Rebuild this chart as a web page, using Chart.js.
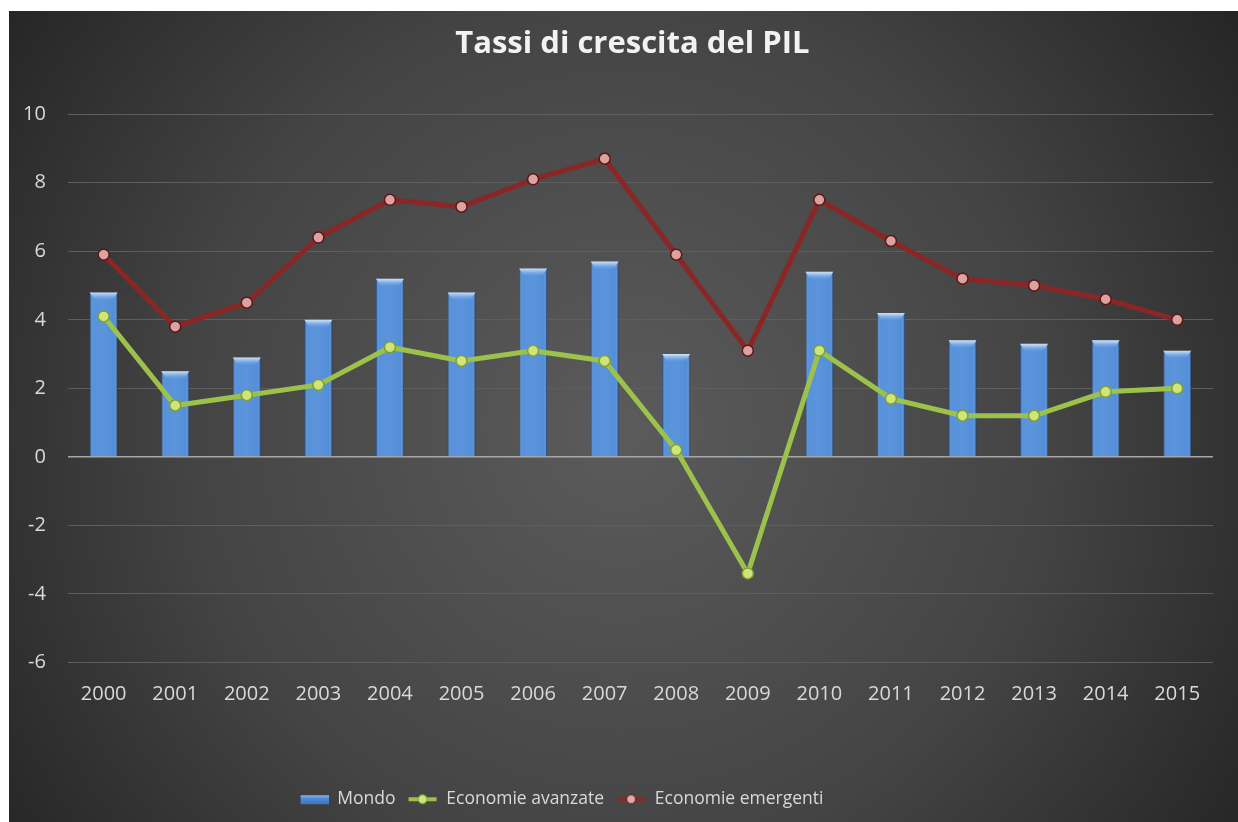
<!DOCTYPE html>
<html>
<head>
<meta charset="utf-8">
<script src="https://cdn.jsdelivr.net/npm/chart.js@4"></script>
<style>
  html, body { margin: 0; padding: 0; background: #ffffff; }
  #wrap { width: 1238px; height: 822px; }
</style>
</head>
<body>
<div id="wrap"><canvas id="c" width="1238" height="822"></canvas></div>
<script>
const years = ['2000','2001','2002','2003','2004','2005','2006','2007','2008','2009','2010','2011','2012','2013','2014','2015'];
const mondo = [4.8, 2.5, 2.9, 4.0, 5.2, 4.8, 5.5, 5.7, 3.0, -0.05, 5.4, 4.2, 3.4, 3.3, 3.4, 3.1];
const avanzate = [4.1, 1.5, 1.8, 2.1, 3.2, 2.8, 3.1, 2.8, 0.2, -3.4, 3.1, 1.7, 1.2, 1.2, 1.9, 2.0];
const emergenti = [5.9, 3.8, 4.5, 6.4, 7.5, 7.3, 8.1, 8.7, 5.9, 3.1, 7.5, 6.3, 5.2, 5.0, 4.6, 4.0];
const yTicks = [10, 8, 6, 4, 2, 0, -2, -4, -6];

function legendIcon(kind) {
  const c = document.createElement('canvas');
  c.width = 30; c.height = 16;
  const g = c.getContext('2d');
  if (kind === 'bar') {
    const gr = g.createLinearGradient(0, 4, 0, 13);
    gr.addColorStop(0, '#8cbcf2'); gr.addColorStop(0.35, '#4f8cd8'); gr.addColorStop(1, '#3c74bf');
    g.fillStyle = gr; g.fillRect(2, 4, 28, 9);
  } else {
    const col = kind === 'green' ? '#9cc24c' : '#8a2828';
    g.strokeStyle = col; g.lineWidth = 4;
    g.beginPath(); g.moveTo(1, 8); g.lineTo(29, 8); g.stroke();
    g.beginPath(); g.arc(15, 8, 4.5, 0, Math.PI * 2);
    g.fillStyle = kind === 'green' ? '#d0e67a' : '#e0a8a8'; g.fill();
    g.lineWidth = 1; g.strokeStyle = kind === 'green' ? '#7a9a30' : '#6a1a1a'; g.stroke();
  }
  return c;
}
const icons = { bar: legendIcon('bar'), green: legendIcon('green'), red: legendIcon('red') };

const bgPlugin = {
  id: 'bg',
  beforeDraw(chart) {
    const { ctx, width, height } = chart;
    ctx.save();
    ctx.fillStyle = '#ffffff';
    ctx.fillRect(0, 0, width, height);
    const gr = ctx.createRadialGradient(620, 430, 20, 620, 430, 760);
    gr.addColorStop(0, '#5a5a5a');
    gr.addColorStop(0.55, '#444444');
    gr.addColorStop(1, '#242424');
    ctx.fillStyle = gr;
    ctx.fillRect(9, 11, width - 9, height - 11);
    ctx.restore();
  }
};

// bevel styling of the library's own bar elements
const barStyle = {
  id: 'barStyle',
  afterDatasetDraw(chart, args) {
    if (chart.data.datasets[args.index].type !== 'bar') return;
    const { ctx } = chart;
    ctx.save();
    args.meta.data.forEach(el => {
      const { x, y, base, width } = el.getProps(['x', 'y', 'base', 'width'], true);
      const l = x - width / 2, r = x + width / 2;
      const top = Math.min(y, base), bot = Math.max(y, base);
      const h = bot - top;
      if (h < 3) return;
      const hg = ctx.createLinearGradient(l, 0, r, 0);
      hg.addColorStop(0, 'rgba(30,60,110,0.35)');
      hg.addColorStop(0.12, 'rgba(255,255,255,0.05)');
      hg.addColorStop(0.5, 'rgba(255,255,255,0.07)');
      hg.addColorStop(0.88, 'rgba(255,255,255,0.02)');
      hg.addColorStop(1, 'rgba(20,45,90,0.45)');
      ctx.fillStyle = hg;
      ctx.fillRect(l, top, width, h);
      const cap = Math.min(8, h / 2);
      const vg = ctx.createLinearGradient(0, top, 0, top + cap);
      vg.addColorStop(0, 'rgba(220,238,255,0.95)');
      vg.addColorStop(1, 'rgba(120,170,235,0.0)');
      ctx.fillStyle = vg;
      ctx.beginPath();
      ctx.moveTo(l, top);
      ctx.lineTo(r, top);
      ctx.lineTo(r - 5, top + cap);
      ctx.lineTo(l + 5, top + cap);
      ctx.closePath();
      ctx.fill();
    });
    ctx.restore();
  }
};

const legendShift = {
  id: 'legendShift',
  afterLayout(chart) {
    const lg = chart.legend;
    if (lg) { lg.left -= 46; lg.right -= 46; }
  }
};

Chart.defaults.font.family = "'Open Sans', 'DejaVu Sans', sans-serif";
Chart.defaults.color = '#d9d9d9';

new Chart(document.getElementById('c'), {
  data: {
    labels: years,
    datasets: [
      {
        type: 'line', label: 'Economie emergenti', data: emergenti, order: 1,
        borderColor: '#8a2626', borderWidth: 5, tension: 0,
        pointRadius: 5.5, pointBackgroundColor: '#dba2a2', pointBorderColor: '#5e1515', pointBorderWidth: 1.5,
        pointStyle: 'circle'
      },
      {
        type: 'line', label: 'Economie avanzate', data: avanzate, order: 0,
        borderColor: '#9cc24c', borderWidth: 5, tension: 0,
        pointRadius: 5.5, pointBackgroundColor: '#cfe57a', pointBorderColor: '#7f9f34', pointBorderWidth: 1.5,
        pointStyle: 'circle'
      },
      {
        type: 'bar', label: 'Mondo', data: mondo, order: 2,
        backgroundColor: '#4f8cd8', borderColor: '#2f5f9c', borderWidth: 1,
        categoryPercentage: 1.0, barPercentage: 0.39
      }
    ]
  },
  options: {
    responsive: false,
    animation: false,
    layout: { padding: { left: 1, right: 25, top: 0, bottom: 4 } },
    plugins: {
      title: {
        display: true, text: 'Tassi di crescita del PIL\u00a0\u00a0',
        fullSize: false,
        color: '#f2f2f2', font: { size: 31, weight: 'bold' },
        padding: { top: 26, bottom: 51 }
      },
      legend: {
        position: 'bottom',
        labels: {
          color: '#d9d9d9', font: { size: 17.5 },
          usePointStyle: true, pointStyleWidth: 30, boxHeight: 16, padding: 12,
          generateLabels(chart) {
            const order = [2, 1, 0];
            const iconFor = ['red', 'green', 'bar'];
            return order.map(i => ({
              text: chart.data.datasets[i].label,
              pointStyle: icons[iconFor[i]],
              fontColor: '#d9d9d9',
              datasetIndex: i,
              hidden: false,
              lineWidth: 0,
              strokeStyle: 'rgba(0,0,0,0)',
              fillStyle: 'rgba(0,0,0,0)'
            }));
          }
        }
      },
      tooltip: { enabled: false }
    },
    scales: {
      x: {
        grid: { display: false },
        border: { display: false },
        ticks: { color: '#d9d9d9', font: { size: 20 }, padding: 12 },
        afterFit(scale) { scale.height += 60; }
      },
      y: {
        min: -6, max: 10,
        border: { display: false },
        afterBuildTicks(scale) { scale.ticks = yTicks.map(v => ({ value: v })); },
        grid: {
          color: ctx => (ctx.tick && ctx.tick.value === 0) ? '#a8a8a8' : '#5e5e5e',
          lineWidth: ctx => (ctx.tick && ctx.tick.value === 0) ? 1.5 : 1,
          drawTicks: false
        },
        ticks: { color: '#d9d9d9', font: { size: 20 }, padding: 22 }
      }
    }
  },
  plugins: [bgPlugin, barStyle, legendShift]
});
</script>
</body>
</html>
